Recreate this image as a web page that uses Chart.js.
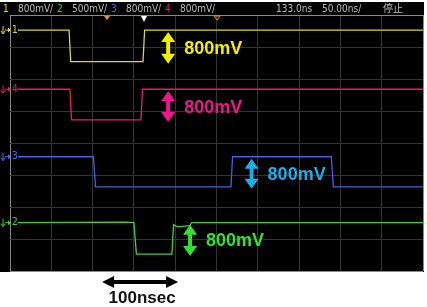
<!DOCTYPE html>
<html>
<head>
<meta charset="utf-8">
<script src="https://cdn.jsdelivr.net/npm/chart.js@4.4.1/dist/chart.umd.min.js"></script>
<style>
  body { margin: 0; background: #fff; }
  #wrap { width: 427px; height: 307px; }
</style>
</head>
<body>
<div id="wrap"><canvas id="scopeChart"></canvas></div>
<script>
// time in divisions (50ns/div), level in divisions from bottom of screen
const ch1X = [0.19, 1.43, 1.47, 3.22, 3.26, 10];
const ch1Y = [7.53, 7.53, 6.54, 6.54, 7.53, 7.53];
const ch4X = [0.19, 1.45, 1.49, 3.17, 3.21, 10];
const ch4Y = [5.68, 5.68, 4.72, 4.72, 5.68, 5.68];
const ch3X = [0.19, 2.02, 2.07, 5.35, 5.39, 7.78, 7.83, 10];
const ch3Y = [3.57, 3.57, 2.63, 2.63, 3.57, 3.57, 2.63, 2.63];
const ch2X = [0.19, 2.8, 3.0, 3.06, 3.92, 3.96, 4.05, 4.35, 4.4, 10];
const ch2Y = [1.51, 1.53, 1.51, 0.53, 0.53, 1.45, 1.38, 1.42, 1.51, 1.51];

const headerLabels = ["800mV/", "500mV/", "800mV/", "800mV/"];
const headerChannels = ["1", "2", "3", "4"];
const timeLabels = ["133.0ns", "50.00ns/", "停止"];
const ampLabel = "800mV";
const spanLabel = "100nsec";

const yellow = "#d9d92e", pink = "#e0206f", blue = "#4a5ee0", green = "#3ccf3c";

function pts(xs, ys) {
    return xs.map((x, i) => ({ x: x, y: ys[i] }));
}

// vertical double arrow between two levels
function vArrow(ctx, x, y1, y2, color) {
    const hw = 7, hl = 10, sw = 2;
    ctx.fillStyle = color;
    ctx.beginPath();
    ctx.moveTo(x, y1);
    ctx.lineTo(x + hw, y1 + hl);
    ctx.lineTo(x + sw, y1 + hl);
    ctx.lineTo(x + sw, y2 - hl);
    ctx.lineTo(x + hw, y2 - hl);
    ctx.lineTo(x, y2);
    ctx.lineTo(x - hw, y2 - hl);
    ctx.lineTo(x - sw, y2 - hl);
    ctx.lineTo(x - sw, y1 + hl);
    ctx.lineTo(x - hw, y1 + hl);
    ctx.closePath();
    ctx.fill();
}

function hArrow(ctx, x1, x2, y, color) {
    const hw = 6, hl = 12, sw = 2;
    ctx.fillStyle = color;
    ctx.beginPath();
    ctx.moveTo(x1, y);
    ctx.lineTo(x1 + hl, y - hw);
    ctx.lineTo(x1 + hl, y - sw);
    ctx.lineTo(x2 - hl, y - sw);
    ctx.lineTo(x2 - hl, y - hw);
    ctx.lineTo(x2, y);
    ctx.lineTo(x2 - hl, y + hw);
    ctx.lineTo(x2 - hl, y + sw);
    ctx.lineTo(x1 + hl, y + sw);
    ctx.lineTo(x1 + hl, y + hw);
    ctx.closePath();
    ctx.fill();
}

const scopePlugin = {
    id: "scope",
    beforeDraw(chart) {
        const ctx = chart.ctx;
        const a = chart.chartArea;
        ctx.save();
        ctx.fillStyle = "#000";
        ctx.fillRect(0, 2, a.right + 1, a.bottom - 1);
        ctx.restore();
    },
    afterDraw(chart) {
        const ctx = chart.ctx;
        const xs = chart.scales.x, ys = chart.scales.y;
        ctx.save();
        // header
        ctx.font = "10px 'Liberation Sans Narrow', 'DejaVu Sans Condensed', sans-serif";
        ctx.textBaseline = "alphabetic";
        const chCols = [yellow, green, "#5060ff", pink];
        const chX = [3, 57, 111, 165];
        for (let i = 0; i < 4; i++) {
            ctx.fillStyle = chCols[i];
            ctx.fillText(headerChannels[i], chX[i], 12);
            ctx.fillStyle = "#bdbdbd";
            ctx.fillText(headerLabels[i], chX[i] + 15, 12);
        }
        ctx.fillStyle = "#bdbdbd";
        ctx.fillText(timeLabels[0], 276, 12);
        ctx.fillText(timeLabels[1], 322, 12);
        ctx.font = "10px 'Noto Sans CJK JP', sans-serif";
        ctx.fillText(timeLabels[2], 383, 12);

        // top markers
        ctx.fillStyle = "#f0922a";
        ctx.beginPath();
        ctx.moveTo(104, 16); ctx.lineTo(110, 16); ctx.lineTo(107, 20); ctx.closePath(); ctx.fill();
        ctx.fillStyle = "#fff";
        ctx.beginPath();
        ctx.moveTo(141, 16); ctx.lineTo(147, 16); ctx.lineTo(144, 22); ctx.closePath(); ctx.fill();
        ctx.strokeStyle = "#f0922a";
        ctx.lineWidth = 1;
        ctx.beginPath();
        ctx.moveTo(214, 16); ctx.lineTo(220, 16); ctx.lineTo(217, 20); ctx.closePath(); ctx.stroke();

        // channel markers on the left
        const marks = [[ch1Y[0], yellow, "1"], [ch4Y[0], pink, "4"], [ch3Y[0], "#5068f0", "3"], [ch2Y[0], green, "2"]];
        ctx.font = "10px 'DejaVu Sans Condensed', sans-serif";
        ctx.textBaseline = "middle";
        marks.forEach(m => {
            const py = ys.getPixelForValue(m[0]);
            ctx.fillStyle = m[1];
            ctx.strokeStyle = m[1];
            ctx.beginPath();
            ctx.moveTo(3, py - 4); ctx.lineTo(3, py + 3);
            ctx.moveTo(1, py + 1); ctx.lineTo(3, py + 4); ctx.lineTo(5, py + 1);
            ctx.moveTo(5, py); ctx.lineTo(10, py);
            ctx.stroke();
            ctx.beginPath();
            ctx.moveTo(11, py); ctx.lineTo(8, py - 2.5); ctx.lineTo(8, py + 2.5); ctx.closePath(); ctx.fill();
            ctx.fillText(m[2], 12, py);
        });

        // amplitude annotations
        const ann = [
            [3.83, ch1Y[0], ch1Y[2], "#f2ee00"],
            [3.83, ch4Y[0], ch4Y[2], "#f0158c"],
            [5.85, ch3Y[0], ch3Y[2], "#1aaee6"],
            [4.36, ch2Y[0], ch2Y[3], "#33e033"]
        ];
        ctx.font = "bold 18px 'Liberation Sans', Arial, sans-serif";
        ctx.textBaseline = "middle";
        ann.forEach(n => {
            const px = xs.getPixelForValue(n[0]);
            const y1 = ys.getPixelForValue(n[1]) + 2;
            const y2 = ys.getPixelForValue(n[2]) + 2;
            vArrow(ctx, px, y1, y2, n[3]);
            ctx.fillStyle = n[3];
            ctx.fillText(ampLabel, px + 16, (y1 + y2) / 2 + 1);
        });

        // time span annotation
        const bx1 = xs.getPixelForValue(2.23), bx2 = xs.getPixelForValue(4.07);
        hArrow(ctx, bx1, bx2, 282, "#000");
        ctx.fillStyle = "#111";
        ctx.font = "bold 17px 'Liberation Sans', Arial, sans-serif";
        ctx.textAlign = "center";
        ctx.textBaseline = "alphabetic";
        ctx.fillText(spanLabel, (bx1 + bx2) / 2 + 2, 303);
        ctx.restore();
    }
};

const gridColor = (ctx, max) => {
    const v = ctx.tick ? ctx.tick.value : 0;
    return (v === 0 || v === max) ? "#8a8a8a" : "#333";
};

new Chart(document.getElementById("scopeChart"), {
    type: "line",
    data: {
        datasets: [
            { label: "1", data: pts(ch1X, ch1Y), borderColor: yellow },
            { label: "4", data: pts(ch4X, ch4Y), borderColor: pink },
            { label: "3", data: pts(ch3X, ch3Y), borderColor: blue },
            { label: "2", data: pts(ch2X, ch2Y), borderColor: green }
        ]
    },
    options: {
        responsive: true,
        maintainAspectRatio: false,
        animation: false,
        layout: { padding: { left: 10, right: 4, top: 15, bottom: 36 } },
        elements: {
            point: { radius: 0 },
            line: { borderWidth: 1.3, tension: 0 }
        },
        plugins: {
            legend: { display: false },
            tooltip: { enabled: false }
        },
        scales: {
            x: {
                type: "linear",
                min: 0,
                max: 10,
                afterFit: s => { s.height = 0; },
                ticks: { display: false, stepSize: 1 },
                grid: { color: c => gridColor(c, 10), drawTicks: false },
                border: { display: false }
            },
            y: {
                type: "linear",
                min: 0,
                max: 8,
                afterFit: s => { s.width = 0; },
                ticks: { display: false, stepSize: 1 },
                grid: { color: c => gridColor(c, 8), drawTicks: false },
                border: { display: false }
            }
        }
    },
    plugins: [scopePlugin]
});
</script>
</body>
</html>
